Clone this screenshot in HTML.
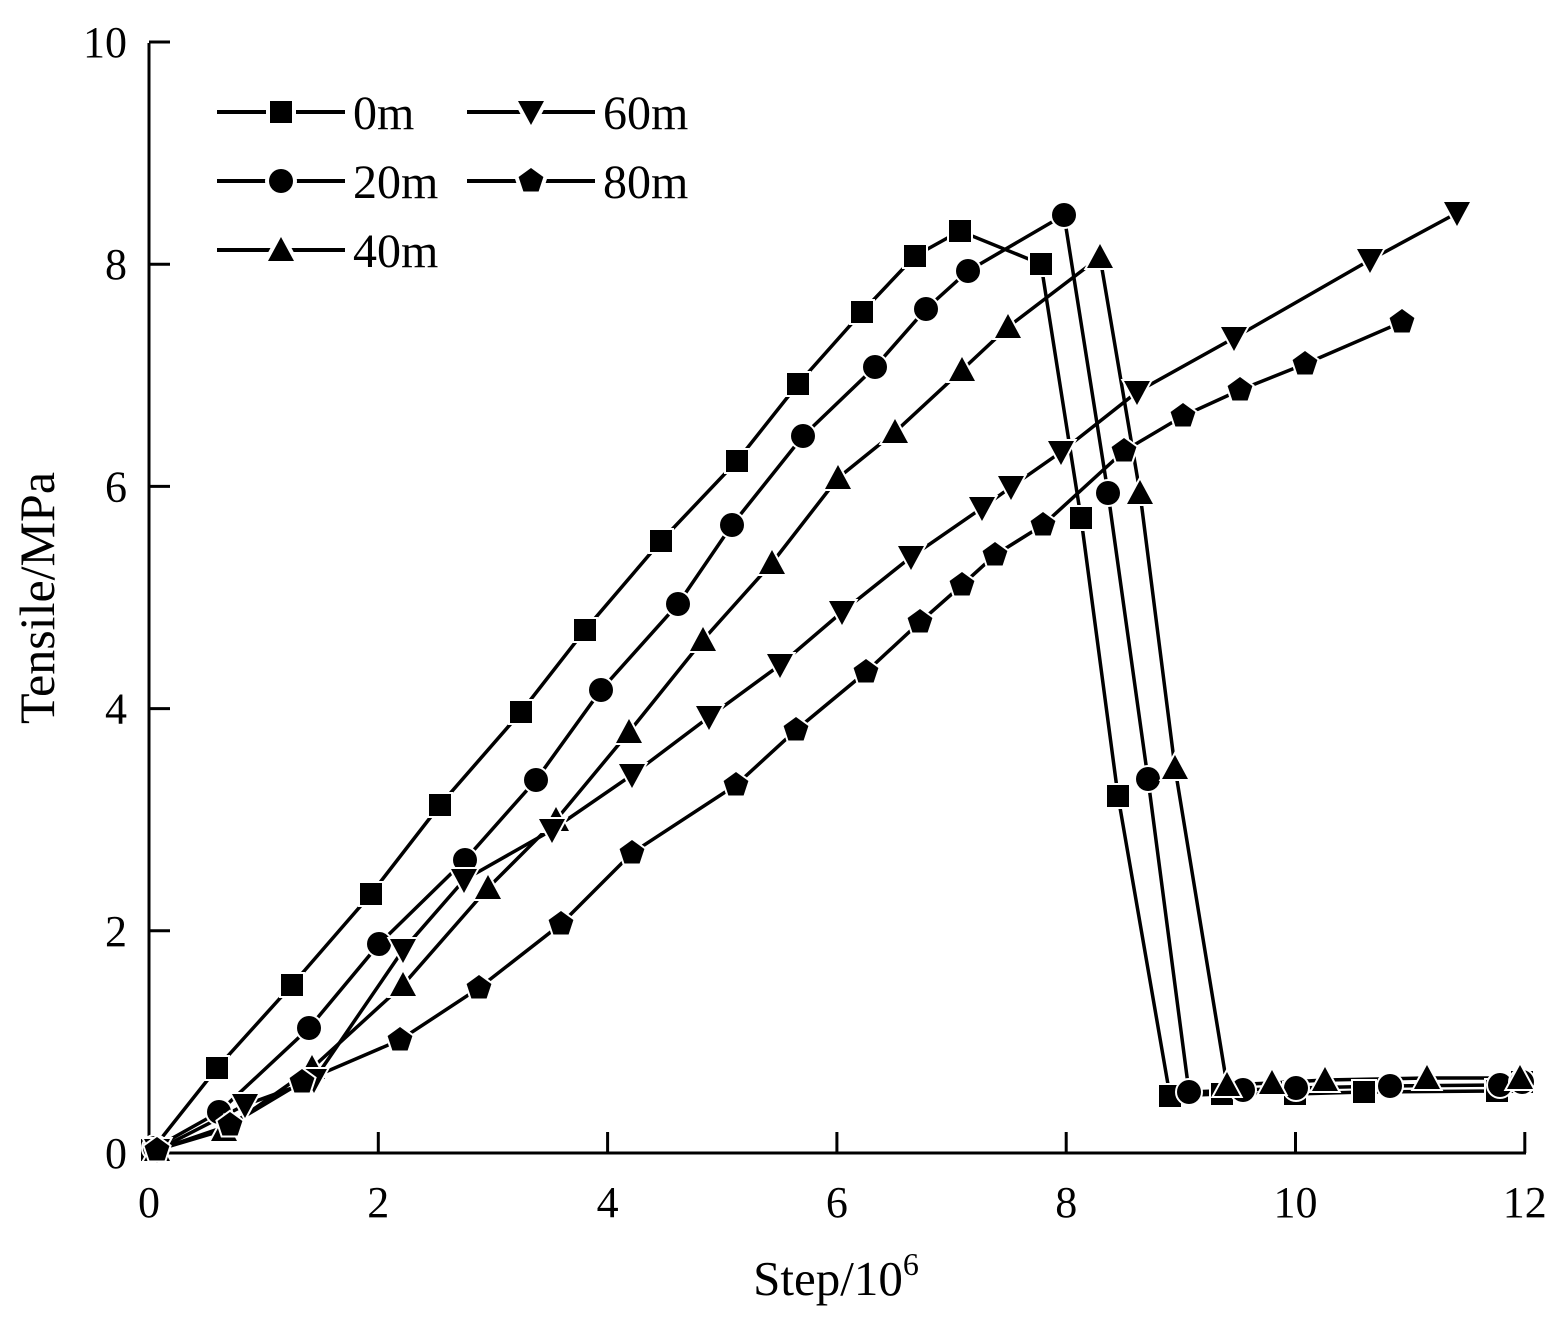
<!DOCTYPE html>
<html><head><meta charset="utf-8"><style>
html,body{margin:0;padding:0;background:#fff}
svg text{font-family:"Liberation Serif",serif;fill:#000}
</style></head><body>
<svg id="s" width="1564" height="1331" viewBox="0 0 1564 1331" xmlns="http://www.w3.org/2000/svg">
<defs>
<rect id="sq" x="-11" y="-11" width="22" height="22"/>
<circle id="ci" r="12"/>
<polygon id="tu" points="0,-13 13,11 -13,11"/>
<polygon id="td" points="0,13 13,-11 -13,-11"/>
<polygon id="pe" points="0,-13 12.4,-4 7.6,10.5 -7.6,10.5 -12.4,-4"/>
</defs>
<g stroke="#000" stroke-width="3" fill="none">
<line x1="149" y1="43" x2="149" y2="1153"/>
<line x1="148" y1="1153" x2="1526" y2="1153"/>
</g>
<g id="ticks" stroke="#000" stroke-width="3"></g>
<g font-size="44" text-anchor="end" id="yl"></g>
<g font-size="44" text-anchor="middle" id="xl"></g>
<text x="836" y="1295" font-size="49" text-anchor="middle">Step/10<tspan font-size="32" dy="-20">6</tspan></text>
<text transform="translate(54,598) rotate(-90)" font-size="50" text-anchor="middle">Tensile/MPa</text>
<g id="series"></g>
<g id="legend" font-size="48"></g>
</svg>
<script>
const NS="http://www.w3.org/2000/svg";
function el(t,a,p){const e=document.createElementNS(NS,t);for(const k in a)e.setAttribute(k,a[k]);p.appendChild(e);return e;}
const tk=document.getElementById('ticks'),yl=document.getElementById('yl'),xl=document.getElementById('xl');
for(let i=0;i<=5;i++){const y=1153-i*222.2;el('line',{x1:149,y1:y,x2:170,y2:y},tk);const t=el('text',{x:127,y:y+15},yl);t.textContent=i*2;}
for(let i=0;i<=6;i++){const x=149+i*229.3;el('line',{x1:x,y1:1153,x2:x,y2:1132},tk);const t=el('text',{x:x,y:1217},xl);t.textContent=i*2;}
const S=[
['sq',[[152,1150],[217,1068],[292,985],[371,894],[440,805],[521,712],[585,630],[661,541],[737,461],[798,384],[862,312],[915,256],[960,231],[1041,264],[1081,518],[1118,796],[1170,1096],[1222,1094],[1295,1094],[1364,1092],[1497,1091],[1522,1082]]],
['ci',[[155,1148],[219,1112],[309,1028],[379,944],[465,860],[536,780],[601,690],[678,604],[732,525],[803,436],[875,367],[926,309],[968,271],[1064,215],[1108,493],[1148,779],[1189,1092],[1243,1090],[1296,1088],[1390,1086],[1500,1085],[1522,1082]]],
['tu',[[157,1150],[224,1130],[312,1068],[403,985],[488,888],[556,820],[629,732],[703,640],[772,563],[838,478],[895,432],[962,370],[1008,327],[1100,257],[1140,493],[1175,768],[1227,1085],[1272,1083],[1325,1080],[1427,1078],[1520,1078]]],
['td',[[157,1150],[245,1105],[314,1080],[403,950],[464,880],[552,830],[632,775],[709,717],[780,665],[842,612],[911,557],[982,508],[1011,487],[1061,452],[1137,392],[1234,338],[1370,260],[1457,213]]],
['pe',[[157,1150],[230,1125],[302,1082],[400,1040],[479,988],[561,924],[632,853],[736,785],[796,730],[866,672],[920,622],[962,585],[995,555],[1043,525],[1124,451],[1183,416],[1240,390],[1305,364],[1402,322]]]
];
const sg=document.getElementById('series');
S.forEach(([m,p])=>{el('polyline',{points:p.map(q=>q.join(',')).join(' '),fill:'none',stroke:'#000','stroke-width':3.5},sg);});
S.forEach(([m,p])=>{p.forEach(([x,y])=>{el('use',{href:'#'+m,x:x,y:y,fill:'#000',stroke:'#fff','stroke-width':4},sg);el('use',{href:'#'+m,x:x,y:y,fill:'#000'},sg);});});
const lg=document.getElementById('legend');
const L=[['sq',217,112,'0m'],['ci',217,181,'20m'],['tu',217,250,'40m'],['td',467,112,'60m'],['pe',467,181,'80m']];
L.forEach(([m,x,y,t])=>{el('line',{x1:x,y1:y,x2:x+128,y2:y,stroke:'#000','stroke-width':4},lg);
el('use',{href:'#'+m,x:x+64,y:y,fill:'#000',stroke:'#fff','stroke-width':8},lg);el('use',{href:'#'+m,x:x+64,y:y,fill:'#000'},lg);
const e=el('text',{x:x+136,y:y+17},lg);e.textContent=t;});
</script>
</body></html>
